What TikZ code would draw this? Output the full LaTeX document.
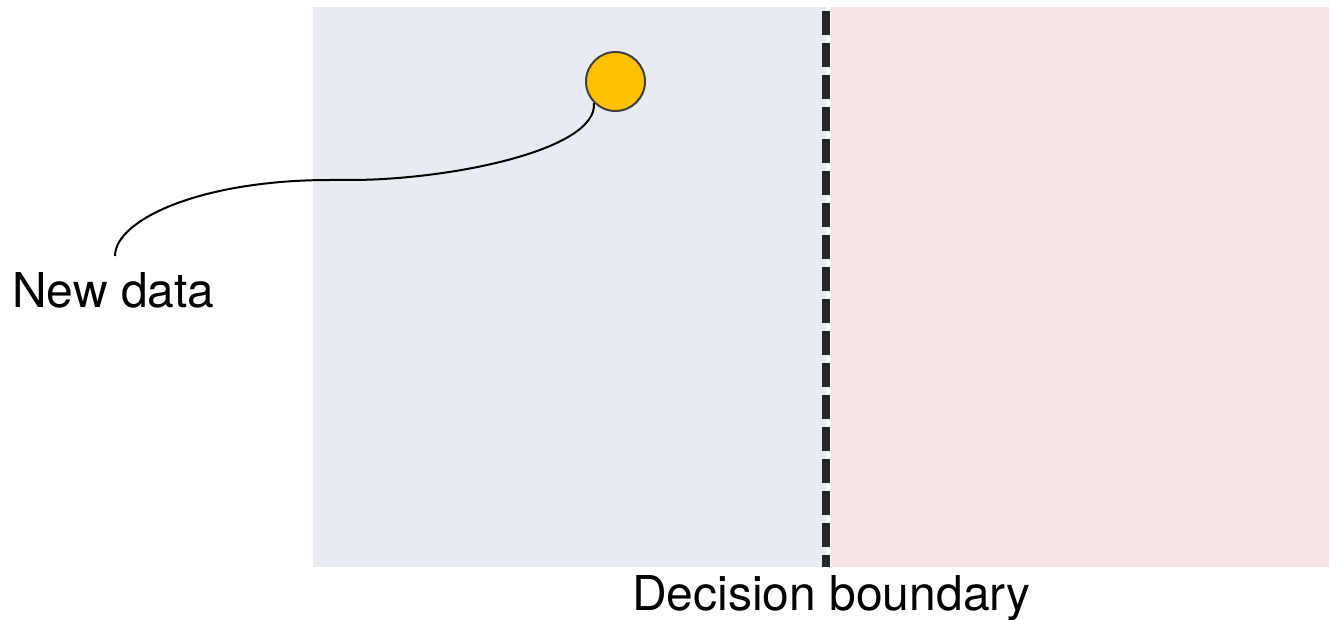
\documentclass[tikz,border=0pt]{standalone}
\usepackage{fontspec}
\setmainfont{TeX Gyre Heros}
\definecolor{regblue}{HTML}{E8EBF2}
\definecolor{regpink}{HTML}{F7E4E5}
\definecolor{dot}{HTML}{FFC000}
\definecolor{dotline}{HTML}{404040}
\definecolor{bound}{HTML}{262626}
\begin{document}
\begin{tikzpicture}[x=1pt,y=-1pt,
  region/.style={draw=none},
  label/.style={font=\fontsize{48}{56}\selectfont, inner sep=0pt, anchor=base west},
  datapoint/.style={circle, fill=dot, draw=dotline, line width=2pt, minimum size=59pt, inner sep=0pt},
  boundary/.style={bound, line width=8pt, dash pattern=on 24pt off 8pt, dash phase=0pt},
  leader/.style={black, line width=2pt}]
\useasboundingbox (0,0) rectangle (1329,620);
\fill[regblue] (313,7) rectangle (827,567);
\fill[regpink] (831,7) rectangle (1329,567);
\coordinate (btop) at (826,11);
\coordinate (bbot) at (826,567);
\draw[boundary] (btop) -- (bbot);
\node[datapoint] (new) at (615.5,81.5) {};
\node[label] (newlbl) at (12,307) {New data};
\node[label] (declbl) at (632,610) {Decision boundary};
\coordinate (lend) at (115,256);
\draw[leader] (new.-135) .. controls (598,150) and (450,180) .. (350,180) -- (330,180) .. controls (200,180) and (115,220) .. (lend);
\end{tikzpicture}
\end{document}
